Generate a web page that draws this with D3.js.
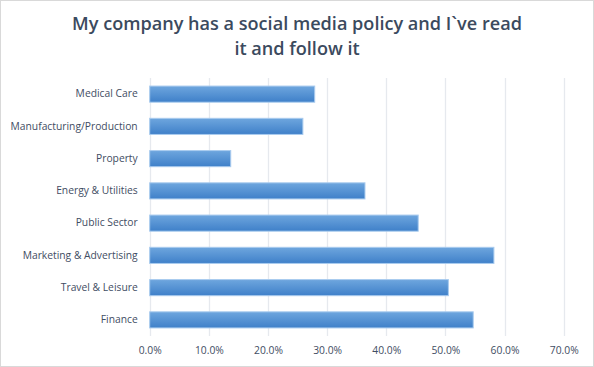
<!DOCTYPE html>
<html><head><meta charset="utf-8">
<script src="https://cdn.jsdelivr.net/npm/d3@7"></script>
<style>
html,body{margin:0;padding:0;background:#fff;}
svg{display:block;}
</style></head>
<body>
<script>
const categories = ["Medical Care","Manufacturing/Production","Property","Energy & Utilities","Public Sector","Marketing & Advertising","Travel & Leisure","Finance"];
const values = [0.279, 0.259, 0.137, 0.364, 0.454, 0.582, 0.505, 0.547];
const tickValues = [0,0.1,0.2,0.3,0.4,0.5,0.6,0.7];
const titleLines = ["My company has a social media policy and I`ve read","it and follow it"];

const W=594,H=367;
const svg=d3.select("body").append("svg").attr("width",W).attr("height",H);
const defs=svg.append("defs");
const g=defs.append("linearGradient").attr("id","bg").attr("x1",0).attr("x2",0).attr("y1",0).attr("y2",1);
g.append("stop").attr("offset","0%").attr("stop-color","#6EA6DE");
g.append("stop").attr("offset","100%").attr("stop-color","#3F80C9");

svg.append("rect").attr("x",0.5).attr("y",0.5).attr("width",W-1).attr("height",H-1).attr("fill","#fff").attr("stroke","#D9D9D9");

const m={left:149.7,right:563.7,top:78,bottom:336};
const x=d3.scaleLinear().domain([0,0.7]).range([m.left,m.right]);
const y=d3.scaleBand().domain(categories).range([m.top,m.bottom]).paddingInner(0.5).paddingOuter(0.25);

// gridlines
svg.append("g").selectAll("line").data(tickValues).join("line")
  .attr("x1",d=>Math.round(x(d))+0.5).attr("x2",d=>Math.round(x(d))+0.5)
  .attr("y1",m.top).attr("y2",m.bottom).attr("stroke","#E6E9EE").attr("stroke-width",1.3);

// bars
svg.append("g").selectAll("rect").data(categories).join("rect")
  .attr("x",x(0)).attr("y",d=>y(d)).attr("width",(d,i)=>x(values[i])-x(0)).attr("height",y.bandwidth())
  .attr("fill","url(#bg)").attr("stroke","#A9CBEE").attr("stroke-width",1);

// category labels
const ax=svg.append("g").attr("transform",`translate(${m.left},0)`)
  .call(d3.axisLeft(y).tickSize(0).tickPadding(12));
ax.select(".domain").remove();
ax.selectAll("text").attr("font-family","'Open Sans', sans-serif").attr("font-size",10.3).attr("fill","#3F4D63");

// x axis labels
const bx=svg.append("g").attr("transform",`translate(0,${m.bottom})`)
  .call(d3.axisBottom(x).tickValues(tickValues).tickFormat(d3.format(".1%")).tickSize(0).tickPadding(11));
bx.select(".domain").remove();
bx.selectAll("text").attr("font-family","'Open Sans', sans-serif").attr("font-size",10.3).attr("fill","#3F4D63");

// title
const t=svg.append("text").attr("text-anchor","middle").attr("font-family","'Open Sans', sans-serif")
  .attr("font-size",18).attr("font-weight",600).attr("fill","#3B4A5E");
t.selectAll("tspan").data(titleLines).join("tspan").attr("x",297).attr("y",(d,i)=>30+i*25).text(d=>d);
const w0=t.select("tspan").node().getComputedTextLength();
t.attr("font-size",18*450/w0);
</script>
</body></html>
